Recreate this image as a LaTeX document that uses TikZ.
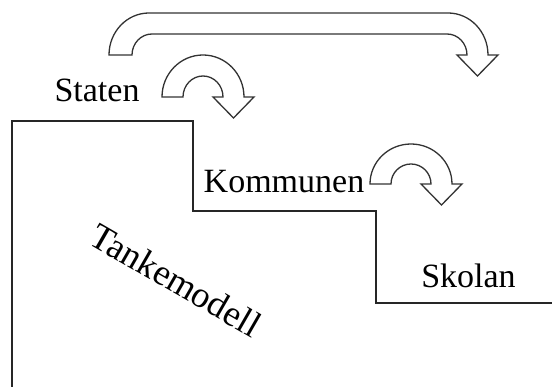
\documentclass[tikz,border=0pt]{standalone}
\usepackage{fontspec}
\setmainfont{Liberation Serif}
\begin{document}
\begin{tikzpicture}[x=1pt,y=1pt,
  stairline/.style={draw=black!85, line width=1.8pt, line join=miter},
  blockarrow/.style={draw=black!80, line width=1.3pt, fill=white, line join=miter},
  label/.style={font=\fontsize{34}{40}\selectfont, inner sep=0pt, anchor=base}]
\useasboundingbox[fill=white] (0,0) rectangle (552,387);
% staircase
\draw[stairline] (12,-2) -- (12,266) -- (193,266) -- (193,176) -- (376,176) -- (376,84) -- (554,84);
% labels
\node[label] (staten) at (97,285) {Staten};
\node[label] (kommunen) at (284,194) {Kommunen};
\node[label] (skolan) at (468.5,99) {Skolan};
\node[font=\fontsize{36.5}{40}\selectfont, inner sep=0pt, rotate=-30] (tanke) at (176,107) {Tankemodell};
% big arrow
\draw[blockarrow] (109,332) arc[start angle=180,end angle=90,x radius=40,y radius=42]
  -- (448,374) arc[start angle=90,end angle=0,x radius=40,y radius=42]
  -- (498,332) -- (477.5,311) -- (457,332) -- (467,332)
  arc[start angle=0,end angle=90,x radius=20,y radius=21]
  -- (152,353) arc[start angle=90,end angle=180,x radius=20,y radius=21] -- cycle;
% Staten arrow
\draw[blockarrow] (162,290) arc[start angle=180,end angle=0,x radius=41,y radius=42]
  -- (254,290) -- (233.5,269) -- (213,290) -- (223,290)
  arc[start angle=0,end angle=180,x radius=20,y radius=21] -- cycle;
% Kommunen arrow
\draw[blockarrow] (370,203) arc[start angle=180,end angle=0,x radius=41,y radius=40]
  -- (462,203) -- (441.5,182) -- (421,203) -- (431,203)
  arc[start angle=0,end angle=180,x radius=20,y radius=20] -- cycle;
\end{tikzpicture}
\end{document}
